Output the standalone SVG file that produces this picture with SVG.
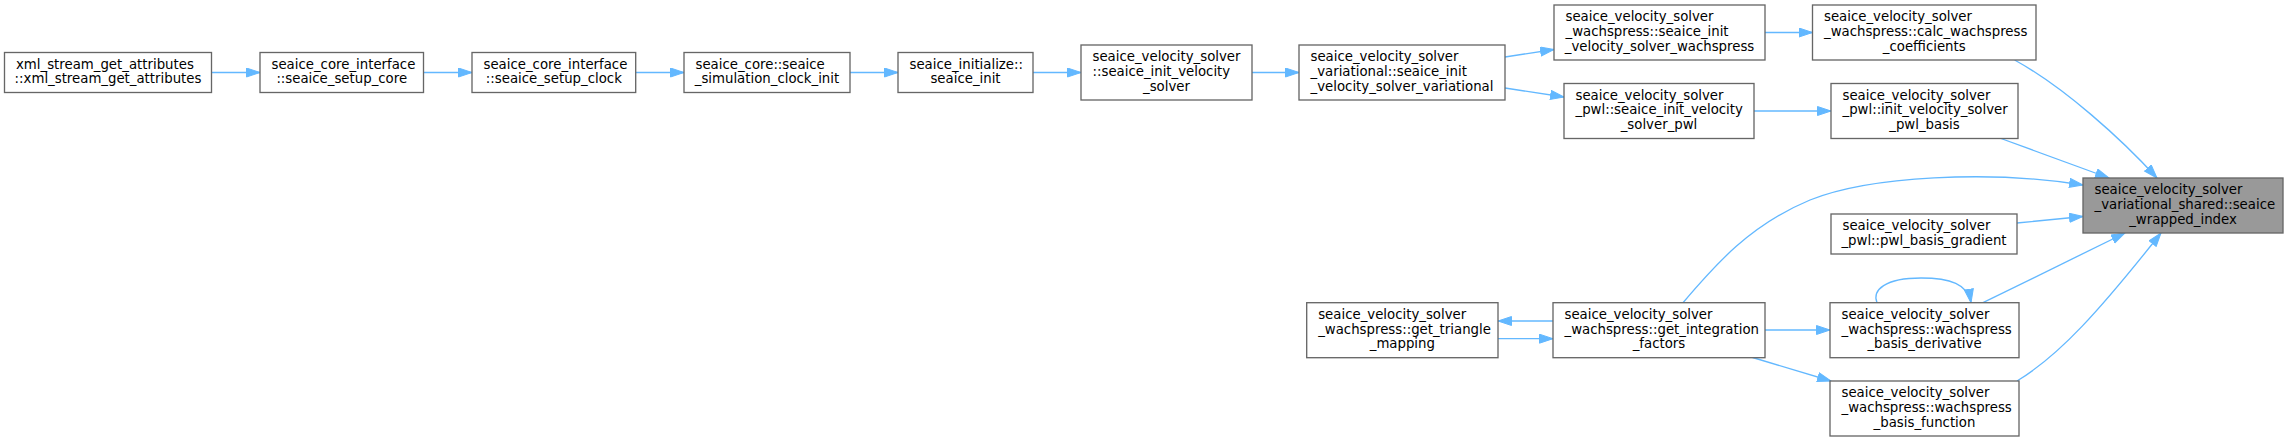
<svg xmlns="http://www.w3.org/2000/svg" width="2289" height="441" viewBox="0 0 2289 441">
<style>
.node rect{fill:#ffffff;stroke:#666666;stroke-width:1.33}
.target rect{fill:#999999;stroke:#666666;stroke-width:1.33}
text{font-family:"DejaVu Sans","Liberation Sans",sans-serif;font-size:13.3px;fill:#000000}
.l{text-anchor:start}
.c{text-anchor:middle}
.edge{fill:none;stroke:#63b8ff;stroke-width:1.33;marker-end:url(#ah)}
</style>
<defs>
<marker id="ah" markerUnits="userSpaceOnUse" markerWidth="16" markerHeight="12" refX="14" refY="5" orient="auto">
<path d="M0.5,0.5 L14,5 L0.5,9.5 Z" fill="#63b8ff" stroke="#63b8ff" stroke-width="1"/>
</marker>
</defs>
<rect width="2289" height="441" fill="#ffffff"/>
<g id="connectors">
<path class="edge" d="M211.5,72.5 L260,72.5"/>
<path class="edge" d="M423.5,72.5 L472,72.5"/>
<path class="edge" d="M635.7,72.5 L684,72.5"/>
<path class="edge" d="M850,72.5 L898,72.5"/>
<path class="edge" d="M1033,72.5 L1081,72.5"/>
<path class="edge" d="M1252,72.5 L1299,72.5"/>
<path class="edge" d="M1505,57 L1554,49.5"/>
<path class="edge" d="M1505,88 L1564,97"/>
<path class="edge" d="M1765,32.5 L1812.5,32.5"/>
<path class="edge" d="M1754,111 L1831,111"/>
<path class="edge" d="M2014.6,60 C2064.6,87.5 2122,139.5 2157,178"/>
<path class="edge" d="M2001,138.5 L2109,178"/>
<path class="edge" d="M1683,302.7 C1715,265 1750,225 1810,200 C1870,176 1990,170 2083,185"/>
<path class="edge" d="M2017,223 L2083,216.5"/>
<path class="edge" d="M1983,302.7 L2125,233"/>
<path class="edge" d="M1877,302.7 C1872,290 1885,278 1921,278 C1950,278 1968,284 1971,302.7"/>
<path class="edge" d="M2017,381 C2060,355 2100,310 2161,233"/>
<path class="edge" d="M1765,330 L1830,330"/>
<path class="edge" d="M1752.6,357.5 L1831,381"/>
<path class="edge" d="M1553,321 L1498,321"/>
<path class="edge" d="M1498,338.7 L1553,338.7"/>
</g>
<g id="n1" class="node"><rect x="4.5" y="52.5" width="207" height="40"/><text class="l" x="16" y="68.5">xml_stream_get_attributes</text><text class="c" x="108" y="83.2">::xml_stream_get_attributes</text></g>
<g id="n2" class="node"><rect x="260" y="52.5" width="163.5" height="40"/><text class="l" x="271.5" y="68.5">seaice_core_interface</text><text class="c" x="341.75" y="83.2">::seaice_setup_core</text></g>
<g id="n3" class="node"><rect x="472" y="52.5" width="163.7" height="40"/><text class="l" x="483.5" y="68.5">seaice_core_interface</text><text class="c" x="553.85" y="83.2">::seaice_setup_clock</text></g>
<g id="n4" class="node"><rect x="684" y="52.5" width="166" height="40"/><text class="l" x="695.5" y="68.5">seaice_core::seaice</text><text class="c" x="767" y="83.2">_simulation_clock_init</text></g>
<g id="n5" class="node"><rect x="898" y="52.5" width="135" height="40"/><text class="l" x="909.5" y="68.5">seaice_initialize::</text><text class="c" x="965.5" y="83.2">seaice_init</text></g>
<g id="n6" class="node"><rect x="1081" y="45" width="171" height="55"/><text class="l" x="1092.5" y="61.1">seaice_velocity_solver</text><text class="l" x="1092.5" y="75.8">::seaice_init_velocity</text><text class="c" x="1166.5" y="90.5">_solver</text></g>
<g id="n7" class="node"><rect x="1299" y="45" width="206" height="55"/><text class="l" x="1310.5" y="61.1">seaice_velocity_solver</text><text class="l" x="1310.5" y="75.8">_variational::seaice_init</text><text class="c" x="1402" y="90.5">_velocity_solver_variational</text></g>
<g id="n8" class="node"><rect x="1554" y="5" width="211" height="55"/><text class="l" x="1565.5" y="21.1">seaice_velocity_solver</text><text class="l" x="1565.5" y="35.8">_wachspress::seaice_init</text><text class="c" x="1659.5" y="50.5">_velocity_solver_wachspress</text></g>
<g id="n9" class="node"><rect x="1564" y="83.5" width="190" height="55"/><text class="l" x="1575.5" y="99.6">seaice_velocity_solver</text><text class="l" x="1575.5" y="114.3">_pwl::seaice_init_velocity</text><text class="c" x="1659" y="129">_solver_pwl</text></g>
<g id="n10" class="node"><rect x="1812.5" y="5" width="223.5" height="55"/><text class="l" x="1824" y="21.1">seaice_velocity_solver</text><text class="l" x="1824" y="35.8">_wachspress::calc_wachspress</text><text class="c" x="1924.25" y="50.5">_coefficients</text></g>
<g id="n11" class="node"><rect x="1831" y="83.5" width="187" height="55"/><text class="l" x="1842.5" y="99.6">seaice_velocity_solver</text><text class="l" x="1842.5" y="114.3">_pwl::init_velocity_solver</text><text class="c" x="1924.5" y="129">_pwl_basis</text></g>
<g id="n12" class="target"><rect x="2083" y="178" width="200" height="55"/><text class="l" x="2094.5" y="194.1">seaice_velocity_solver</text><text class="l" x="2094.5" y="208.8">_variational_shared::seaice</text><text class="c" x="2183" y="223.5">_wrapped_index</text></g>
<g id="n13" class="node"><rect x="1831" y="214" width="186" height="40"/><text class="l" x="1842.5" y="230">seaice_velocity_solver</text><text class="c" x="1924" y="244.7">_pwl::pwl_basis_gradient</text></g>
<g id="n14" class="node"><rect x="1830" y="302.7" width="189" height="55"/><text class="l" x="1841.5" y="318.8">seaice_velocity_solver</text><text class="l" x="1841.5" y="333.5">_wachspress::wachspress</text><text class="c" x="1924.5" y="348.2">_basis_derivative</text></g>
<g id="n15" class="node"><rect x="1830" y="381" width="189" height="55"/><text class="l" x="1841.5" y="397.1">seaice_velocity_solver</text><text class="l" x="1841.5" y="411.8">_wachspress::wachspress</text><text class="c" x="1924.5" y="426.5">_basis_function</text></g>
<g id="n16" class="node"><rect x="1553" y="302.7" width="212" height="55"/><text class="l" x="1564.5" y="318.8">seaice_velocity_solver</text><text class="l" x="1564.5" y="333.5">_wachspress::get_integration</text><text class="c" x="1659" y="348.2">_factors</text></g>
<g id="n17" class="node"><rect x="1306.7" y="302.7" width="191.3" height="55"/><text class="l" x="1318.2" y="318.8">seaice_velocity_solver</text><text class="l" x="1318.2" y="333.5">_wachspress::get_triangle</text><text class="c" x="1402.35" y="348.2">_mapping</text></g>
</svg>
